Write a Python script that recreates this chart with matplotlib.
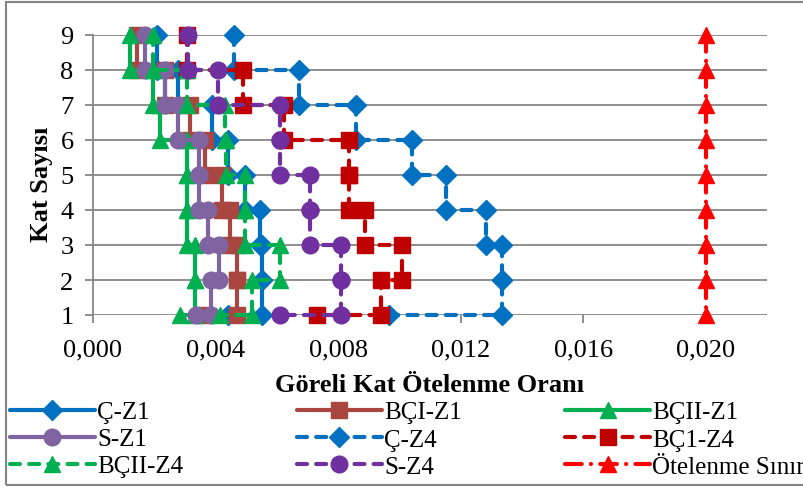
import matplotlib
matplotlib.use('Agg')
import matplotlib.pyplot as plt
from matplotlib.patches import Rectangle

plt.rcParams['font.family'] = ['Liberation Serif', 'DejaVu Serif']

# story drift ratios, read from top storey (9) down to storey 1
c_z1 = [0.00208, 0.00277, 0.00388, 0.00440, 0.00495, 0.00545, 0.00550, 0.00550, 0.00440]
bci_z1 = [0.00143, 0.00235, 0.00316, 0.00365, 0.00420, 0.00446, 0.00469, 0.00469, 0.00365]
bcii_z1 = [0.00120, 0.00195, 0.00218, 0.00306, 0.00306, 0.00306, 0.00332, 0.00332, 0.00283]
s_z1 = [0.00170, 0.00235, 0.00277, 0.00347, 0.00347, 0.00375, 0.00410, 0.00385, 0.00335]
c_z4 = [0.00459, 0.00674, 0.00860, 0.01042, 0.01153, 0.01283, 0.01336, 0.01336, 0.00967]
bc1_z4 = [0.00306, 0.00489, 0.00622, 0.00834, 0.00834, 0.00889, 0.01007, 0.00941, 0.00730]
bcii_z4 = [0.00195, 0.00306, 0.00430, 0.00435, 0.00495, 0.00495, 0.00609, 0.00518, 0.00414]
s_z4 = [0.00309, 0.00407, 0.00609, 0.00609, 0.00707, 0.00707, 0.00811, 0.00811, 0.00609]
limit = [0.020] * 9
floors = [9, 8, 7, 6, 5, 4, 3, 2, 1]


def stepped(drift):
    # each storey drift is drawn as a vertical piece from floor i down to floor i-1
    xs, ys = [], []
    for d, f in zip(drift[:-1], floors[:-1]):
        xs += [d, d]
        ys += [f, f - 1]
    xs.append(drift[-1])
    ys.append(floors[-1])
    return xs, ys


fig = plt.figure(figsize=(8.04, 4.89), dpi=100)
ax = fig.add_axes([93 / 804, 1 - 316 / 489, 674 / 804, 280 / 489])

solid = dict(lw=3, clip_on=False, solid_capstyle='round', solid_joinstyle='round')
dashed = dict(lw=3, clip_on=False, dashes=(2.4, 2.2), dash_capstyle='round')

series = [
    (c_z1, 'Ç-Z1', '#0070C0', 'D', solid, 10),
    (bci_z1, 'BÇI-Z1', '#A9463F', 's', solid, 11),
    (bcii_z1, 'BÇII-Z1', '#00B050', '^', solid, 12),
    (s_z1, 'S-Z1', '#8064A2', 'o', solid, 12),
    (c_z4, 'Ç-Z4', '#0070C0', 'D', dashed, 10),
    (bc1_z4, 'BÇ1-Z4', '#C00000', 's', dashed, 11),
    (bcii_z4, 'BÇII-Z4', '#00B050', '^', dashed, 12),
    (s_z4, 'S-Z4', '#7030A0', 'o', dashed, 12),
]
lines = {}
for drift, name, col, mk, style, ms in series:
    x, y = stepped(drift)
    lines[name], = ax.plot(x, y, color=col, marker=mk, markersize=ms, label=name, **style)

lines['Ötelenme Sınırı'], = ax.plot(limit, floors, color='#FF0000', marker='^', markersize=12, lw=3,
                                   clip_on=False, dashes=(4, 2.2, 0.05, 2.2), dash_capstyle='round',
                                   label='Ötelenme Sınırı')

ax.set_xlim(0, 0.022)
ax.set_ylim(1, 9)
ax.set_xticks([0, 0.004, 0.008, 0.012, 0.016, 0.020])
ax.set_xticklabels(['0,000', '0,004', '0,008', '0,012', '0,016', '0,020'])
ax.set_yticks(range(1, 10))
ax.tick_params(labelsize=19, color='#868686', length=6, width=1.3)
ax.tick_params(axis='x', pad=11)
ax.tick_params(axis='y', pad=8)
ax.grid(axis='y', color='#868686', lw=1.3)
ax.set_axisbelow(True)
for s in ['top', 'right', 'bottom']:
    ax.spines[s].set_visible(False)
ax.spines['left'].set_color('#868686')
ax.spines['left'].set_linewidth(1.3)

ax.set_xlabel('Göreli Kat Ötelenme Oranı', fontsize=19, fontweight='bold', labelpad=9)
ax.set_ylabel('Kat Sayısı', fontsize=19, fontweight='bold')
ax.yaxis.set_label_coords(-0.06, 0.47)

# three legend columns, placed where the original has them
columns = [
    (['Ç-Z1', 'S-Z1', 'BÇII-Z4'], 10),
    (['BÇI-Z1', 'Ç-Z4', 'S-Z4'], 297),
    (['BÇII-Z1', 'BÇ1-Z4', 'Ötelenme Sınırı'], 565),
]
for names, x0 in columns:
    leg = fig.legend([lines[k] for k in names], names, loc='upper left',
                     bbox_to_anchor=(x0 / 804, 1 - 402 / 489), frameon=False, fontsize=18,
                     handlelength=3.4, labelspacing=0.18, handletextpad=0.1,
                     borderaxespad=0, borderpad=0)

fig.patches.append(Rectangle((6 / 804, 3 / 489), 1.0, 1 - 6 / 489, transform=fig.transFigure,
                             fill=False, edgecolor='#868686', lw=1.5))

fig.savefig('out.png', dpi=100)
